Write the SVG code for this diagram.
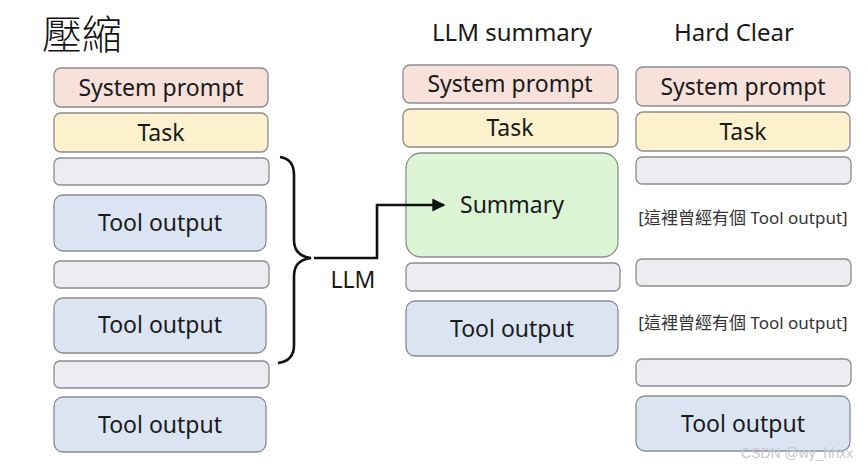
<svg xmlns="http://www.w3.org/2000/svg" width="865" height="468" viewBox="0 0 865 468">
<style>
.b{stroke:#8c8c8c;stroke-width:1.3}
.sp{fill:#f8e1db}
.tk{fill:#fdf2cd}
.gr{fill:#ecedf1}
.to{fill:#dbe4f2}
.sm{fill:#dbf5d5}
.t{font-family:"Noto Sans","Open Sans","Liberation Sans",sans-serif;font-size:23px;fill:#1a1a1a;text-anchor:middle}
.h{font-family:"Noto Sans","Open Sans","Liberation Sans",sans-serif;font-size:24px;fill:#1a1a1a;text-anchor:middle}
.c{font-family:"Noto Sans","Noto Sans CJK TC",sans-serif;font-size:17px;fill:#333;text-anchor:middle}
.ln{fill:none;stroke:#111;stroke-width:2.6}
</style>
<defs>
<marker id="ar" viewBox="0 0 10 10" refX="9" refY="5" markerWidth="5" markerHeight="5" orient="auto"><path d="M0,0 L10,5 L0,10 z" fill="#111"/></marker>
</defs>
<rect width="865" height="468" fill="#fff"/>
<text x="42" y="49" font-family="'Noto Sans CJK TC',sans-serif" font-size="40" font-weight="300" fill="#111">壓縮</text>
<text class="h" x="512" y="41">LLM summary</text>
<text class="h" x="734" y="41">Hard Clear</text>

<g id="left">
<g id="l-sys"><rect class="b sp" x="54" y="68" width="214" height="39" rx="7"/><text class="t" x="161" y="96">System prompt</text></g>
<g id="l-task"><rect class="b tk" x="54" y="113" width="214" height="39" rx="7"/><text class="t" x="161" y="141">Task</text></g>
<g id="l-g1"><rect class="b gr" x="54" y="158" width="215" height="27" rx="6"/></g>
<g id="l-to1"><rect class="b to" x="54" y="195" width="212" height="56" rx="9"/><text class="t" x="160" y="231">Tool output</text></g>
<g id="l-g2"><rect class="b gr" x="54" y="261" width="215" height="27" rx="6"/></g>
<g id="l-to2"><rect class="b to" x="54" y="298" width="212" height="55" rx="9"/><text class="t" x="160" y="333">Tool output</text></g>
<g id="l-g3"><rect class="b gr" x="54" y="361" width="215" height="27" rx="6"/></g>
<g id="l-to3"><rect class="b to" x="54" y="397" width="212" height="55" rx="9"/><text class="t" x="160" y="433">Tool output</text></g>
</g>

<g id="mid">
<g id="m-sys"><rect class="b sp" x="403" y="65" width="215" height="38" rx="7"/><text class="t" x="510" y="92">System prompt</text></g>
<g id="m-task"><rect class="b tk" x="403" y="109" width="215" height="38" rx="7"/><text class="t" x="510" y="136">Task</text></g>
<g id="m-sum"><rect class="b sm" x="406" y="153" width="212" height="104" rx="15"/><text class="t" x="512" y="213">Summary</text></g>
<g id="m-g1"><rect class="b gr" x="406" y="263" width="214" height="28" rx="6"/></g>
<g id="m-to"><rect class="b to" x="406" y="301" width="212" height="55" rx="9"/><text class="t" x="512" y="337">Tool output</text></g>
</g>

<g id="right">
<g id="r-sys"><rect class="b sp" x="636" y="67" width="214" height="39" rx="7"/><text class="t" x="743" y="95">System prompt</text></g>
<g id="r-task"><rect class="b tk" x="636" y="112" width="214" height="39" rx="7"/><text class="t" x="743" y="140">Task</text></g>
<g id="r-g1"><rect class="b gr" x="636" y="157" width="215" height="27" rx="6"/></g>
<text class="c" x="743" y="224">[這裡曾經有個 Tool output]</text>
<g id="r-g2"><rect class="b gr" x="636" y="259" width="215" height="27" rx="6"/></g>
<text class="c" x="743" y="329">[這裡曾經有個 Tool output]</text>
<g id="r-g3"><rect class="b gr" x="636" y="359" width="215" height="27" rx="6"/></g>
<g id="r-to"><rect class="b to" x="636" y="396" width="214" height="55" rx="9"/><text class="t" x="743" y="432">Tool output</text></g>
</g>

<g id="connectors">
<path class="ln" d="M280,157 Q294,159 294,175 L294,240 Q294,256 311,258 Q294,260 294,276 L294,345 Q294,361 278,363"/>
<path class="ln" d="M314,258 L377,258 L377,205 L444,205" marker-end="url(#ar)"/>
<text x="353" y="288" font-family="'Noto Sans','Open Sans',sans-serif" font-size="23" fill="#1a1a1a" text-anchor="middle">LLM</text>
</g>
<text x="797" y="458" font-family="'Liberation Sans',sans-serif" font-size="14" fill="#c8c8c8" text-anchor="middle">CSDN @wy_hhxx</text>
</svg>
